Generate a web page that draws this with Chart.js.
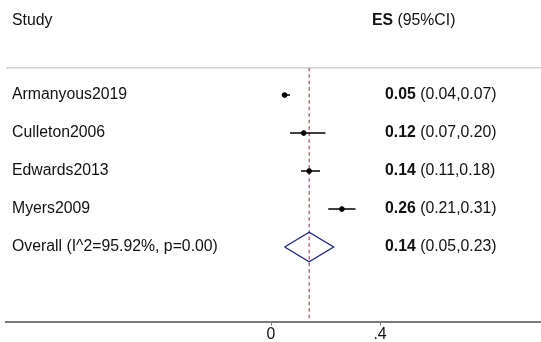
<!DOCTYPE html>
<html>
<head>
<meta charset="utf-8">
<script src="https://cdn.jsdelivr.net/npm/chart.js@4"></script>
<style>
  body { margin: 0; background: #fff; }
  #forest { display: block; }
</style>
</head>
<body>
<canvas id="forest" width="541" height="342"></canvas>
<script>
// datos del forest plot
const studies = ["Armanyous2019", "Culleton2006", "Edwards2013", "Myers2009"];
const es = [0.05, 0.12, 0.14, 0.26];
const lo = [0.04, 0.07, 0.11, 0.21];
const hi = [0.07, 0.20, 0.18, 0.31];
const overallLabel = "Overall (I^2=95.92%, p=0.00)";
const overallEs = 0.14;
const overallLo = 0.05;
const overallHi = 0.23;
const xTicks = [0, 0.4];
const xTickLabels = ["0", ".4"];

const FONT = "Liberation Sans, Arial, Helvetica, sans-serif";
const FS = 15.8;
const yMin = -0.72, yMax = 5.96;
const xMin = -0.9725, xMax = 0.9908;
const nRows = studies.length;

// lineas de IC, una por estudio
const ciSets = studies.map((s, i) => ({
  type: "line",
  data: [{ x: lo[i], y: i }, { x: hi[i], y: i }],
  borderColor: "#000",
  borderWidth: 1.5,
  pointRadius: 0,
  order: 2
}));

const pointSet = {
  type: "scatter",
  data: es.map((v, i) => ({ x: v, y: i })),
  backgroundColor: "#000",
  borderColor: "#000",
  pointRadius: 2.4,
  order: 1
};

const h = 0.39;
const diamondSet = {
  type: "line",
  data: [
    { x: overallLo, y: nRows },
    { x: overallEs, y: nRows - h },
    { x: overallHi, y: nRows },
    { x: overallEs, y: nRows + h },
    { x: overallLo, y: nRows }
  ],
  borderColor: "#1c2486",
  borderWidth: 1.3,
  pointRadius: 0,
  tension: 0,
  order: 1
};

const refLine = {
  type: "line",
  data: [{ x: overallEs, y: yMin }, { x: overallEs, y: yMax }],
  borderColor: "#8e2a34",
  borderWidth: 1,
  borderDash: [3.5, 3],
  pointRadius: 0,
  order: 3
};

// textos y linea gris superior
const textPlugin = {
  id: "forestText",
  beforeDatasetsDraw(chart) {
    const c = chart.ctx, a = chart.chartArea;
    c.save();
    c.strokeStyle = "#d2d2d2";
    c.lineWidth = 1.5;
    c.beginPath();
    c.moveTo(a.left, a.top);
    c.lineTo(a.right, a.top);
    c.stroke();
    c.restore();
  },
  afterDraw(chart) {
    const c = chart.ctx, y = chart.scales.y;
    c.save();
    c.fillStyle = "#111";
    c.textBaseline = "middle";
    const bold = "bold " + FS + "px " + FONT;
    const norm = FS + "px " + FONT;
    const pair = (b, n, x, yy) => {
      c.font = bold;
      c.fillText(b, x, yy);
      const w = c.measureText(b).width;
      c.font = norm;
      c.fillText(n, x + w, yy);
    };
    c.font = norm;
    c.fillText("Study", 12, 21);
    pair("ES", " (95%CI)", 372, 21);
    studies.forEach((s, i) => {
      const yy = y.getPixelForValue(i);
      c.font = norm;
      c.fillText(s, 12, yy);
      pair(es[i].toFixed(2), " (" + lo[i].toFixed(2) + "," + hi[i].toFixed(2) + ")", 385, yy);
    });
    const yo = y.getPixelForValue(nRows);
    c.font = norm;
    c.fillText(overallLabel, 12, yo);
    pair(overallEs.toFixed(2), " (" + overallLo.toFixed(2) + "," + overallHi.toFixed(2) + ")", 385, yo);
    c.restore();
  }
};

new Chart(document.getElementById("forest"), {
  data: { datasets: [refLine, ...ciSets, diamondSet, pointSet] },
  options: {
    responsive: false,
    animation: false,
    devicePixelRatio: 1,
    layout: { autoPadding: false, padding: { left: 6, right: 0, top: 67.7, bottom: 0 } },
    plugins: { legend: { display: false }, tooltip: { enabled: false } },
    scales: {
      x: {
        type: "linear",
        min: xMin,
        max: xMax,
        afterBuildTicks: (s) => { s.ticks = xTicks.map(v => ({ value: v })); },
        afterFit: (s) => { s.height = 20.5; },
        ticks: {
          callback: (v) => xTickLabels[xTicks.indexOf(v)],
          color: "#111",
          font: { family: FONT, size: FS },
          padding: 0,
          maxRotation: 0,
          autoSkip: false
        },
        grid: { drawOnChartArea: false, tickLength: 4, color: "#777", lineWidth: 1 },
        border: { color: "#7a7a7a", width: 2 }
      },
      y: {
        type: "linear",
        display: false,
        reverse: true,
        min: yMin,
        max: yMax
      }
    }
  },
  plugins: [textPlugin]
});
</script>
</body>
</html>
